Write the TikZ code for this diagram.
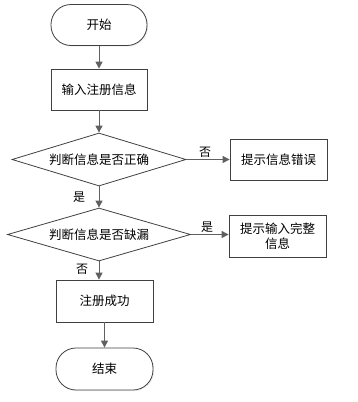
\documentclass[tikz,border=0pt]{standalone}
\usepackage{fontspec}
\setmainfont{Noto Sans CJK SC}
\usetikzlibrary{shapes.geometric,arrows.meta,shadows}
\definecolor{edgegray}{HTML}{404040}
\definecolor{linegray}{HTML}{606060}
\tikzset{
  base/.style={draw=edgegray, line width=0.8pt, fill=white, font=\fontsize{12.5}{15}\selectfont, align=center, inner sep=0pt,
    drop shadow={shadow xshift=1.2pt, shadow yshift=-1.2pt, fill=black!12}},
  termbox/.style={base, rectangle, rounded corners=20pt},
  procbox/.style={base, rectangle},
  decbox/.style={draw=edgegray, line width=0.8pt, fill=white, diamond, aspect=3.4, inner sep=0pt, font=\fontsize{12.5}{15}\selectfont},
  conn/.style={draw=linegray, line width=1pt, -{Triangle[length=7pt,width=7pt]}},
  lbl/.style={font=\fontsize{12}{14}\selectfont, inner sep=0pt}
}
\begin{document}
\begin{tikzpicture}[x=1pt,y=-1pt]
\useasboundingbox (0,0) rectangle (357,402);
\node[termbox, minimum width=96pt, minimum height=41pt] (start) at (99,25) {开始};
\node[procbox, minimum width=96pt, minimum height=41pt] (input) at (99,89.5) {输入注册信息};
\node[decbox, minimum width=174pt, minimum height=53pt] (d1) at (99,159.5) {判断信息是否正确};
\node[procbox, minimum width=97pt, minimum height=41pt] (err) at (278.5,159.5) {提示信息错误};
\node[decbox, minimum width=183pt, minimum height=53pt] (d2) at (99,234.5) {判断信息是否缺漏};
\node[procbox, minimum width=97pt, minimum height=42pt] (comp) at (277.5,236) {提示输入完整\\信息};
\node[procbox, minimum width=97pt, minimum height=42pt] (ok) at (104.5,301) {注册成功};
\node[termbox, minimum width=97pt, minimum height=42pt] (end) at (104.5,369) {结束};
\draw[conn] (start) -- (input);
\draw[conn] (input) -- (d1);
\draw[conn] (d1.east) -- (d1.east -| err.west);
\draw[conn] (d1) -- (d2);
\draw[conn] (d2.east) -- (d2.east -| comp.west);
\draw[conn] (d2.south) -- (d2.south |- ok.north);
\draw[conn] (ok) -- (end);
\node[lbl] (l1) at (205,152) {否};
\node[lbl] (l2) at (79,197) {是};
\node[lbl] (l3) at (207,227) {是};
\node[lbl] (l4) at (82,269) {否};
\end{tikzpicture}
\end{document}
